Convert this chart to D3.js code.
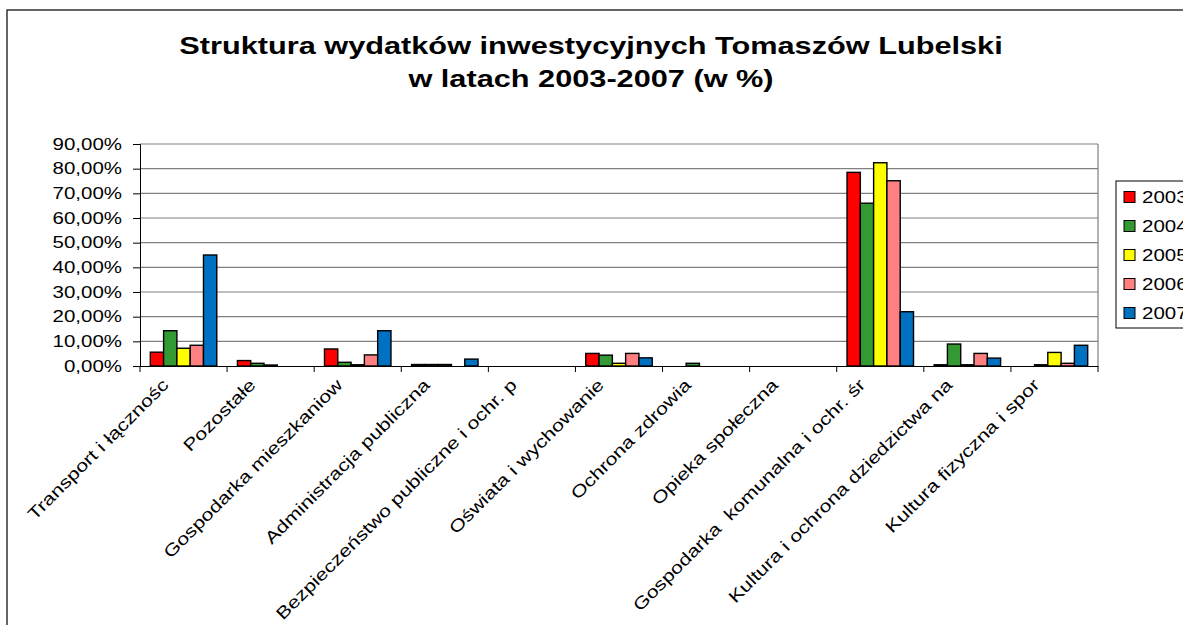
<!DOCTYPE html>
<html>
<head>
<meta charset="utf-8">
<script src="https://cdn.jsdelivr.net/npm/d3@7"></script>
<style>
  body { margin: 0; background: #fff; overflow: hidden; }
  text { font-family: Arial, "Liberation Sans", sans-serif; fill: #000; white-space: pre; }
</style>
</head>
<body>
<div id="chart"></div>
<script>
// categories (labels as they are cut in the picture)
const categories = [
  "Transport i łącznośc",
  "Pozostałe",
  "Gospodarka mieszkaniow",
  "Administracja publiczna",
  "Bezpieczeństwo publiczne i ochr. p",
  "Oświata i wychowanie",
  "Ochrona zdrowia",
  "Opieka społeczna",
  "Gospodarka  komunalna i ochr. śr",
  "Kultura i ochrona dziedzictwa na",
  "Kultura fizyczna i spor"
];
const years = ["2003", "2004", "2005", "2006", "2007"];
const colors = ["#ff0000", "#339933", "#ffff00", "#ff8080", "#0070c0"];

// values in %
const v2003 = [5.6, 2.2, 6.9, 0.6, 0, 5.1, 0, 0, 78.5, 0.5, 0];
const v2004 = [14.3, 1.1, 1.5, 0.6, 0, 4.4, 1.1, 0, 66.0, 8.9, 0.5];
const v2005 = [7.2, 0.4, 0.5, 0.6, 0, 1.1, 0, 0, 82.4, 0.5, 5.5];
const v2006 = [8.4, 0, 4.5, 0, 0, 5.1, 0, 0, 75.1, 5.1, 1.1];
const v2007 = [45.0, 0, 14.3, 2.8, 0, 3.3, 0, 0, 22.0, 3.2, 8.4];
const yTicks = [0, 10, 20, 30, 40, 50, 60, 70, 80, 90];

const series = [v2003, v2004, v2005, v2006, v2007];

const width = 1183, height = 625;
const plot = { left: 140, right: 1098, top: 144, bottom: 366 };
const sx = 1.28; // text looks stretched sideways in the source picture

const svg = d3.select("#chart").append("svg")
  .attr("width", width)
  .attr("height", height);

// chart frame
svg.append("rect")
  .attr("x", 7).attr("y", 10)
  .attr("width", 1400).attr("height", 800)
  .attr("fill", "#fff")
  .attr("stroke", "#333")
  .attr("stroke-width", 1.5);

// title
const title = ["Struktura wydatków inwestycyjnych Tomaszów Lubelski", "w latach 2003-2007 (w %)"];
title.forEach((t, i) => {
  svg.append("text")
    .attr("transform", `translate(591,${54 + i * 33}) scale(${sx},1)`)
    .attr("text-anchor", "middle")
    .attr("font-size", 24)
    .attr("font-weight", "bold")
    .text(t);
});

const x = d3.scaleBand()
  .domain(categories)
  .range([plot.left, plot.right]);

const xi = d3.scaleBand()
  .domain(years)
  .range([0, x.bandwidth()])
  .paddingOuter(0.775);

const y = d3.scaleLinear()
  .domain([0, 90])
  .range([plot.bottom, plot.top]);

// gridlines
svg.append("g")
  .selectAll("line")
  .data(yTicks.filter(d => d > 0))
  .join("line")
  .attr("x1", plot.left).attr("x2", plot.right)
  .attr("y1", d => y(d)).attr("y2", d => y(d))
  .attr("stroke", "#808080")
  .attr("stroke-width", 1.2);

svg.append("line")
  .attr("x1", plot.right).attr("x2", plot.right)
  .attr("y1", plot.top).attr("y2", plot.bottom)
  .attr("stroke", "#808080")
  .attr("stroke-width", 1.2);

// bars
const groups = svg.append("g")
  .selectAll("g")
  .data(categories)
  .join("g")
  .attr("transform", d => `translate(${x(d)},0)`);

groups.selectAll("rect")
  .data((c, ci) => years.map((yr, si) => ({ yr, si, v: series[si][ci] })).filter(d => d.v > 0))
  .join("rect")
  .attr("x", d => xi(d.yr))
  .attr("width", xi.bandwidth())
  .attr("y", d => y(d.v))
  .attr("height", d => y(0) - y(d.v))
  .attr("fill", d => colors[d.si])
  .attr("stroke", "#000")
  .attr("stroke-width", 1.4);

// y axis
const fmt = d => d3.format(".2f")(d).replace(".", ",") + "%";
const gy = svg.append("g")
  .attr("transform", `translate(${plot.left},0)`)
  .call(d3.axisLeft(y).tickValues(yTicks).tickSize(7).tickFormat(""));
gy.selectAll("path, line").attr("stroke", "#000");

svg.append("g")
  .selectAll("text")
  .data(yTicks)
  .join("text")
  .attr("transform", d => `translate(122,${y(d)}) scale(${sx},1)`)
  .attr("dy", "0.35em")
  .attr("text-anchor", "end")
  .attr("font-size", 16)
  .text(fmt);

// x axis
const gx = svg.append("g")
  .attr("transform", `translate(0,${plot.bottom})`)
  .call(d3.axisBottom(x).tickSize(0).tickFormat(""));
gx.select(".domain").attr("stroke", "#000");

svg.append("g")
  .selectAll("line")
  .data(d3.range(categories.length + 1))
  .join("line")
  .attr("x1", i => plot.left + i * x.step())
  .attr("x2", i => plot.left + i * x.step())
  .attr("y1", plot.bottom).attr("y2", plot.bottom + 6)
  .attr("stroke", "#000");

svg.append("g")
  .selectAll("text")
  .data(categories)
  .join("text")
  .attr("transform", d => `translate(${x(d) + x.bandwidth() / 2 - 14},386) rotate(-45) scale(1.26,1)`)
  .attr("text-anchor", "end")
  .attr("font-size", 17)
  .text(d => d);

// legend
const legend = svg.append("g");
legend.append("rect")
  .attr("x", 1116).attr("y", 181)
  .attr("width", 200).attr("height", 147)
  .attr("fill", "#fff")
  .attr("stroke", "#000");

const items = legend.selectAll("g")
  .data(years)
  .join("g")
  .attr("transform", (d, i) => `translate(1124,${197 + i * 29})`);

items.append("rect")
  .attr("x", 0).attr("y", -5.5)
  .attr("width", 11).attr("height", 11)
  .attr("fill", (d, i) => colors[i])
  .attr("stroke", "#000");

items.append("text")
  .attr("transform", `translate(18,0) scale(${sx},1)`)
  .attr("dy", "0.36em")
  .attr("font-size", 16)
  .text(d => d);
</script>
</body>
</html>
